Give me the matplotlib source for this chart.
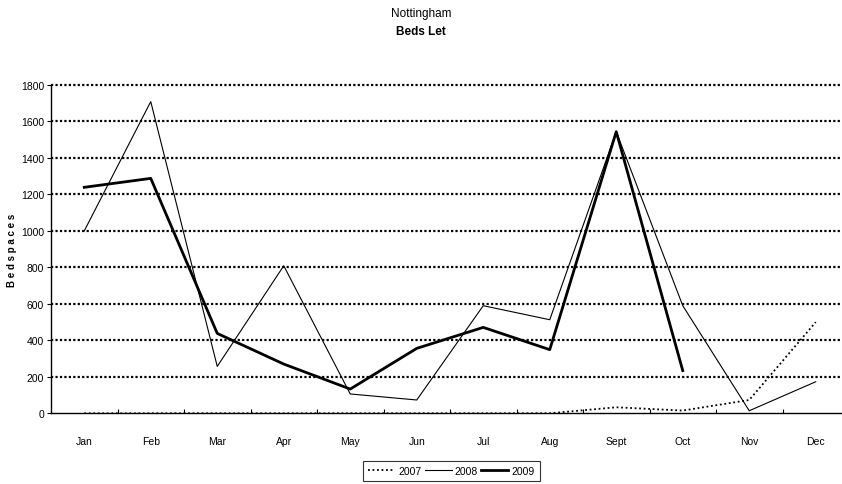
import numpy as np
import matplotlib.pyplot as plt
from matplotlib.lines import Line2D

months = ["Jan", "Feb", "Mar", "Apr", "May", "Jun", "Jul", "Aug", "Sept", "Oct", "Nov", "Dec"]
beds_2007 = [0, 0, 0, 0, 0, 0, 0, 0, 33, 15, 73, 500]
beds_2008 = [1000, 1709, 257, 809, 106, 73, 590, 513, 1544, 590, 14, 173]
beds_2009 = [1239, 1288, 438, 270, 133, 356, 471, 349, 1544, 234]

plt.rcParams['font.family'] = ['Liberation Sans Narrow', 'Liberation Sans', 'DejaVu Sans']

fig = plt.figure(figsize=(8.42, 4.85), dpi=100)
ax = fig.add_axes([51 / 842, 1 - 414.3 / 485, 798 / 842, 328.3 / 485])

x = np.arange(len(months))
ax.plot(x, beds_2007, color="black", lw=1.3, ls=(0, (1, 1.5)), label="2007", zorder=3)
ax.plot(x, beds_2008, color="black", lw=0.8, label="2008", zorder=3)
ax.plot(x[:len(beds_2009)], beds_2009, color="black", lw=2.0, label="2009", zorder=3)

ax.set_xlim(-0.5, 11.5)
ax.set_ylim(0, 1800)
ax.set_yticks(np.arange(0, 1801, 200))
for v in range(200, 1801, 200):
    ax.axhline(v, color="black", lw=1.6, ls=(0, (1, 1)), zorder=1, clip_on=False)

ax.set_xticks(x)
ax.set_xticklabels(months, fontsize=7.5)
ax.set_xticks(np.arange(0.5, 11.5, 1), minor=True)
ax.tick_params(axis="x", which="major", length=0, pad=16)
ax.tick_params(axis="x", which="minor", direction="in", length=3, width=0.8)
ax.tick_params(axis="y", labelsize=7.5, length=3, width=0.8, pad=2)

for s in ["top", "right"]:
    ax.spines[s].set_visible(False)
ax.spines["left"].set_linewidth(1.0)
ax.spines["bottom"].set_linewidth(1.0)

ax.set_ylabel("B e d s p a c e s", fontsize=7, fontweight="bold")
ax.yaxis.set_label_coords(-0.043, 0.5)

fig.text(0.5, 1 - 14 / 485, "Nottingham", ha="center", va="center", fontsize=8.5)
fig.text(0.5, 1 - 32 / 485, "Beds Let", ha="center", va="center", fontsize=8.5, fontweight="bold")

handles = [Line2D([], [], color="black", lw=1.3, ls=(0, (1, 1.5))),
           Line2D([], [], color="black", lw=0.8),
           Line2D([], [], color="black", lw=2.0)]
leg = fig.legend(handles, ["2007", "2008", "2009"], loc="center", bbox_to_anchor=(451.5 / 842, 1 - 472 / 485),
                 ncol=3, fontsize=7.5, frameon=True, fancybox=False, edgecolor="black",
                 handlelength=2.6, handletextpad=0.3, columnspacing=0.3, borderpad=0.5)
leg.get_frame().set_linewidth(0.8)

fig.savefig("out.png", dpi=100)
